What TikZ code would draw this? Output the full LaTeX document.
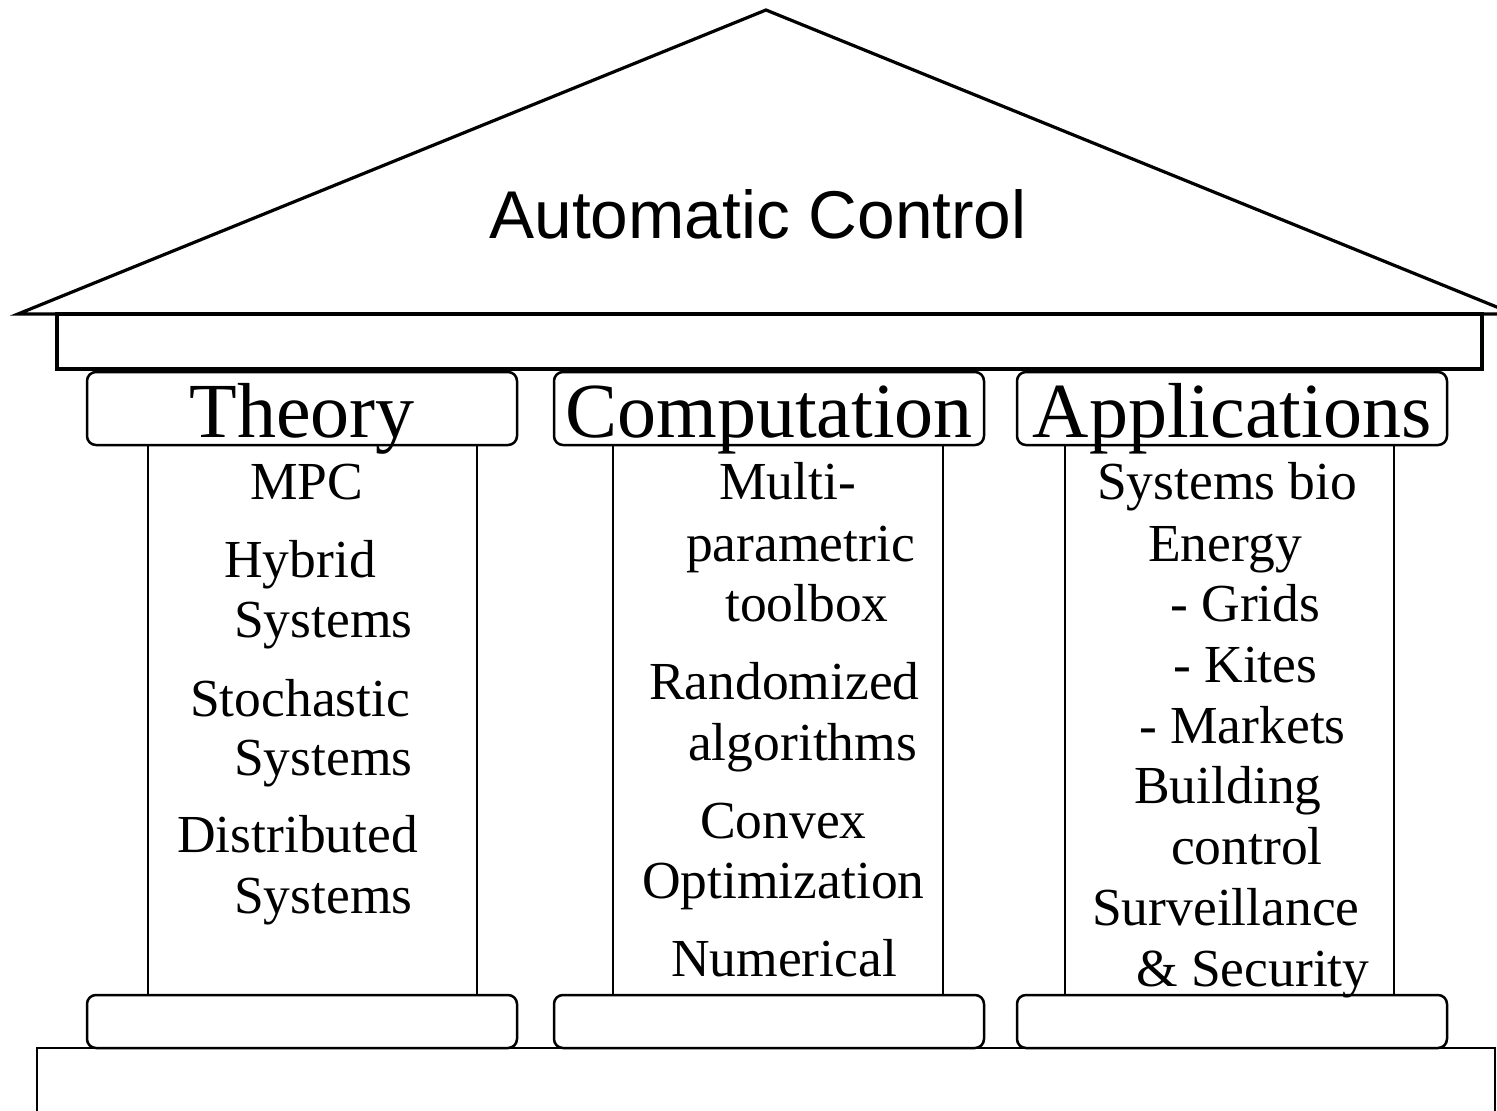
\documentclass[tikz,border=0pt]{standalone}
\usepackage{fontspec}
\setmainfont{Liberation Serif}
\newfontfamily\roofsans{Liberation Sans}
\tikzset{
  heavy/.style={line width=3.2pt},
  shaft/.style={line width=2pt},
  capbox/.style={line width=2.5pt,rounded corners=9pt,fill=white},
  pillarhead/.style={font=\fontsize{78}{80}\selectfont,anchor=base,inner sep=0pt},
  entry/.style={font=\fontsize{53.5}{55}\selectfont,anchor=base west,inner sep=0pt}
}
\begin{document}
\begin{tikzpicture}[x=1pt,y=-1pt]
\useasboundingbox (0,0) rectangle (1497,1111);
% roof, lintel and foundation
\draw[heavy] (18,314)--(766,10)--(1514,314)--cycle;
\node[font=\roofsans\fontsize{67.6}{70}\selectfont,anchor=base,inner sep=0pt] (title) at (758,238) {Automatic Control};
\draw[heavy] (57,314) rectangle (1482,369);
\draw[shaft] (37,1048) rectangle (1495,1130);
% the three pillars
\foreach \cl/\cr/\sl/\sr/\pid/\lbl in {87/517/148/477/theory/Theory,554/984/613/943/comp/Computation,1017/1447/1065/1394/appl/Applications}{
  \draw[shaft] (\sl,445) rectangle (\sr,995);
  \draw[capbox] (\cl,372) rectangle (\cr,445);
  \draw[capbox] (\cl,995) rectangle (\cr,1048);
  \node[pillarhead] (\pid) at ({(\cl+\cr)/2},437) {\lbl};
}
\foreach \txt/\x/\y [count=\i] in {MPC/250/499,Hybrid/224/577,Systems/234/637,Stochastic/190/716,Systems/234/775,Distributed/177/852,Systems/234/913}{\node[entry] (th\i) at (\x,\y) {\txt};}
\foreach \txt/\x/\y [count=\i] in {Multi-/719/499,parametric/686/561,toolbox/725/621,Randomized/649/699,algorithms/688/760,Convex/700/838,Optimization/642/898,Numerical/671/976}{\node[entry] (co\i) at (\x,\y) {\txt};}
\foreach \txt/\x/\y [count=\i] in {Systems bio/1097/499,Energy/1148/561,- Grids/1170/621,- Kites/1173/682,- Markets/1139/743,Building/1134/803,control/1171/864,Surveillance/1092/925,\& Security/1136/986}{\node[entry] (ap\i) at (\x,\y) {\txt};}
\end{tikzpicture}
\end{document}
